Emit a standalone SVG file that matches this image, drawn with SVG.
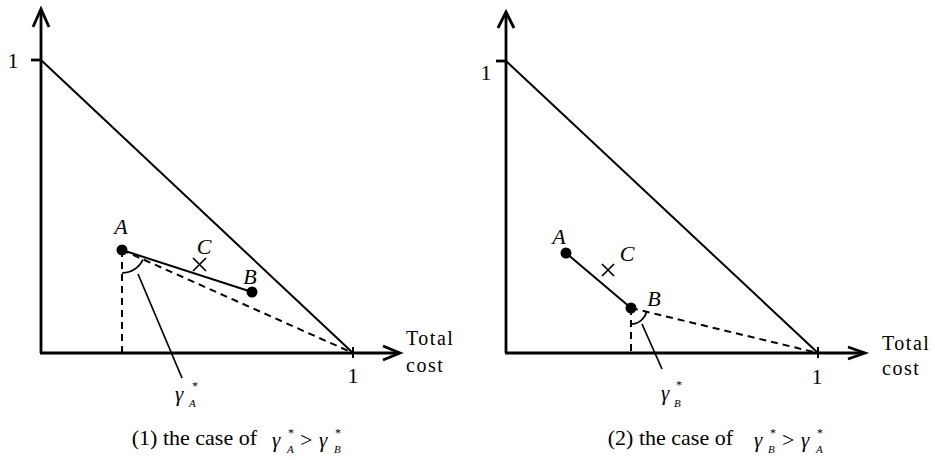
<svg xmlns="http://www.w3.org/2000/svg" width="935" height="460" viewBox="0 0 935 460">
<style>
.ax{fill:none;stroke:#000;stroke-width:2.8;stroke-linejoin:miter}
.ln{fill:none;stroke:#000;stroke-width:2}
.th{fill:none;stroke:#000;stroke-width:1.7}
.ds{fill:none;stroke:#000;stroke-width:2;stroke-dasharray:7 5}
.dot{fill:#000}
text{font-family:"Liberation Serif","Times New Roman",serif;fill:#000}
.lb{font-size:22px;font-style:italic}
.num{font-size:22px}
.cap{font-size:22px}
.tc{font-size:20px;letter-spacing:1.5px}
.g{font-size:21px;font-style:italic}
.sup{font-size:12px}
.sub{font-size:11px;font-style:italic}
</style>
<g id="panel1">
  <g id="axes1">
    <line class="ax" x1="41" y1="353" x2="41" y2="10"/>
    <polyline class="ax" points="33,27 41,9 49,27"/>
    <line class="ax" x1="40" y1="353" x2="399" y2="353"/>
    <polyline class="ax" points="383,346 400,353 383,360"/>
    <line class="ax" x1="31" y1="60" x2="41" y2="60"/>
    <line class="ln" x1="353" y1="347" x2="353" y2="358"/>
    <text class="num" x="13" y="68" text-anchor="middle">1</text>
    <text class="num" x="353" y="383" text-anchor="middle">1</text>
    <text class="tc" x="406" y="345">Total</text>
    <text class="tc" x="406" y="372">cost</text>
  </g>
  <g id="lines1">
    <line class="ln" x1="41" y1="60" x2="353" y2="353"/>
    <line class="ds" x1="122" y1="250" x2="353" y2="353"/>
    <line class="ds" x1="122" y1="250" x2="122" y2="353"/>
    <line class="ln" x1="122" y1="250" x2="252" y2="292"/>
    <path class="th" d="M122,273 A23,23 0 0 0 143,259.4"/>
    <line class="th" x1="138" y1="274" x2="182" y2="378"/>
  </g>
  <g id="pointA1"><circle class="dot" cx="122" cy="250" r="5.5"/><text class="lb" x="121" y="234" text-anchor="middle">A</text></g>
  <g id="pointB1"><circle class="dot" cx="252" cy="292" r="5.5"/><text class="lb" x="250" y="284" text-anchor="middle">B</text></g>
  <g id="pointC1"><path class="th" d="M193,258 L206,271 M206,258 L193,271"/><text class="lb" x="204" y="254" text-anchor="middle">C</text></g>
  <g id="gammaA1">
    <text class="g" x="175" y="401">γ</text>
    <text class="sup" x="192" y="390">*</text>
    <text class="sub" x="189" y="407">A</text>
  </g>
  <g id="caption1">
    <text class="cap" x="257" y="445" text-anchor="end">(1) the case of</text>
    <text class="g" x="272" y="447">γ</text>
    <text class="sup" x="288" y="437">*</text>
    <text class="sub" x="287" y="453">A</text>
    <text class="cap" x="300" y="447">&gt;</text>
    <text class="g" x="319" y="447">γ</text>
    <text class="sup" x="335" y="437">*</text>
    <text class="sub" x="334" y="453">B</text>
  </g>
</g>
<g id="panel2">
  <g id="axes2">
    <line class="ax" x1="506" y1="353" x2="506" y2="12"/>
    <polyline class="ax" points="498,28 506,12 514,28"/>
    <line class="ax" x1="505" y1="353" x2="864" y2="353"/>
    <polyline class="ax" points="848,347 865,353 848,359"/>
    <line class="ax" x1="496" y1="61" x2="506" y2="61"/>
    <line class="ln" x1="818" y1="347" x2="818" y2="358"/>
    <text class="num" x="486" y="80" text-anchor="middle">1</text>
    <text class="num" x="817" y="384" text-anchor="middle">1</text>
    <text class="tc" x="882" y="350">Total</text>
    <text class="tc" x="882" y="375">cost</text>
  </g>
  <g id="lines2">
    <line class="ln" x1="506" y1="61" x2="818" y2="353"/>
    <line class="ds" x1="631" y1="308" x2="818" y2="353"/>
    <line class="ds" x1="631" y1="308" x2="631" y2="353"/>
    <line class="ln" x1="566" y1="253" x2="631" y2="308"/>
    <path class="th" d="M631,324 A16,16 0 0 0 646.5,311.8"/>
    <line class="th" x1="642" y1="324" x2="662" y2="369"/>
  </g>
  <g id="pointA2"><circle class="dot" cx="566" cy="253" r="5.5"/><text class="lb" x="559" y="244" text-anchor="middle">A</text></g>
  <g id="pointB2"><circle class="dot" cx="631" cy="308" r="5.5"/><text class="lb" x="654" y="306" text-anchor="middle">B</text></g>
  <g id="pointC2"><path class="th" d="M602,264 L614,276 M614,264 L602,276"/><text class="lb" x="627" y="261" text-anchor="middle">C</text></g>
  <g id="gammaB2">
    <text class="g" x="661" y="400">γ</text>
    <text class="sup" x="676" y="389">*</text>
    <text class="sub" x="674" y="407">B</text>
  </g>
  <g id="caption2">
    <text class="cap" x="733" y="445" text-anchor="end">(2) the case of</text>
    <text class="g" x="754" y="447">γ</text>
    <text class="sup" x="770" y="437">*</text>
    <text class="sub" x="768" y="453">B</text>
    <text class="cap" x="782" y="447">&gt;</text>
    <text class="g" x="801" y="447">γ</text>
    <text class="sup" x="817" y="437">*</text>
    <text class="sub" x="816" y="453">A</text>
  </g>
</g>
</svg>
